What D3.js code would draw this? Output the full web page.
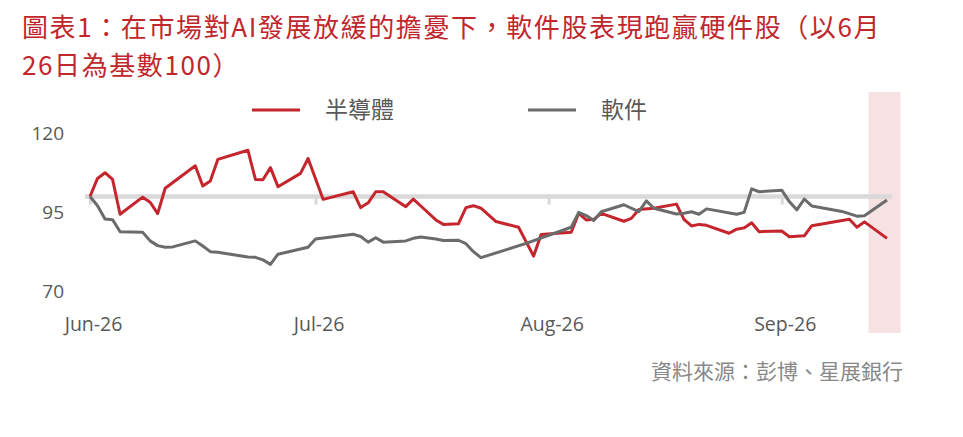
<!DOCTYPE html>
<html>
<head>
<meta charset="utf-8">
<script src="https://cdn.jsdelivr.net/npm/d3@7"></script>
<style>
  body { margin: 0; background: #fff; }
  svg { display: block; }
</style>
</head>
<body>
<svg id="chart" width="963" height="437"></svg>
<script>
const svg = d3.select("#chart");

// data (index, 26 Jun = 100)
const semiDates = ["06-26","06-27","06-28","06-29","06-30","07-03","07-04","07-05","07-06","07-10",
  "07-11","07-12","07-13","07-17","07-18","07-19","07-20","07-21","07-24","07-25",
  "07-27","07-31","08-01","08-02","08-03","08-04","08-07","08-08","08-09","08-11",
  "08-12","08-14","08-15","08-16","08-17","08-19","08-22","08-24","08-25","08-29",
  "08-30","08-31","09-01","09-02","09-05","09-06","09-07","09-09","09-12","09-13",
  "09-14","09-15","09-16","09-19","09-20","09-21","09-22","09-23","09-26","09-27",
  "09-29","09-30","10-05","10-06","10-07","10-10"];
const semiValues = [100,105.7,107.5,105.4,94.4,99.8,98.2,94.6,102.6,109.7,
  103.3,104.9,111.7,114.6,105.4,105.3,109.1,103.1,107.3,112.0,
  99.1,101.5,96.5,98.0,101.5,101.5,96.8,99.2,97.0,92.6,
  91.2,91.4,96.5,97.1,96.3,92.1,90.3,81.2,88.0,88.7,
  94.7,92.6,92.8,94.7,92.2,93.1,95.9,96.3,97.6,92.8,
  90.7,91.2,90.9,88.4,89.7,90.1,91.7,88.9,89.1,87.3,
  87.6,90.8,92.8,90.3,92.0,86.8];

const softDates = ["06-26","06-27","06-28","06-29","06-30","07-03","07-04","07-05","07-06","07-07",
  "07-10","07-11","07-12","07-13","07-17","07-18","07-19","07-20","07-21","07-25",
  "07-26","07-31","08-01","08-02","08-03","08-04","08-07","08-08","08-09","08-11",
  "08-12","08-14","08-15","08-16","08-17","08-23","08-29","08-30","08-31","09-01",
  "09-02","09-05","09-07","09-08","09-09","09-12","09-13","09-14","09-15","09-16",
  "09-20","09-21","09-22","09-23","09-26","09-27","09-28","09-29","09-30","10-04",
  "10-06","10-07","10-10"];
const softValues = [100,97.1,92.9,92.7,88.9,88.7,86.0,84.5,84.0,84.1,
  86.0,84.4,82.6,82.4,80.9,80.8,80.0,78.6,81.8,84.0,
  86.6,88.1,87.4,85.6,87.0,85.6,86.0,86.8,87.2,86.6,
  86.1,86.2,85.1,82.6,80.7,85.2,90.3,95.0,94.0,92.4,
  95.2,97.4,95.2,98.6,96.3,94.5,94.7,95.2,94.4,96.1,
  94.4,95.0,102.4,101.5,102.0,98.4,95.8,99.2,97.0,95.3,
  93.8,93.9,98.9];

const seriesNames = ["半導體", "軟件"];
const tickDates = ["06-26", "07-26", "08-26", "09-26"];
const yTicks = [70, 95, 120];
const highlight = ["10-07", "10-11"];
const year = "2025";

const titleLines = ["圖表1：在市場對AI發展放緩的擔憂下，軟件股表現跑贏硬件股（以6月", "26日為基數100）"];
const sourceText = "資料來源：彭博、星展銀行";

const red = "#C5262D";
const grey = "#6B6B6B";
const labelColor = "#595959";
const numFont = "'Open Sans', sans-serif";
const cjkFont = "'Noto Sans CJK TC', sans-serif";

const parse = d3.timeParse("%Y-%m-%d");
const toDate = s => parse(year + "-" + s);

const x = d3.scaleTime()
  .domain([toDate("06-26"), toDate("10-10")])
  .range([90, 887]);
const y = d3.scaleLinear()
  .domain([70, 120])
  .range([291.6, 133.1]);

// highlight band
svg.append("rect")
  .attr("x", x(toDate(highlight[0])) + 4)
  .attr("y", 92)
  .attr("width", x(toDate(highlight[1])) - x(toDate(highlight[0])) + 2)
  .attr("height", 241)
  .attr("fill", "#F6E1E3");

// title
svg.append("g").selectAll("text")
  .data(titleLines)
  .join("text")
  .attr("x", 22)
  .attr("y", (d, i) => 37 + i * 38)
  .attr("font-family", cjkFont)
  .attr("font-size", 26)
  .attr("letter-spacing", 1.6)
  .attr("fill", "#C0272D")
  .text(d => d);

// baseline at 100 with month ticks
const base = svg.append("g")
  .attr("transform", `translate(0,${y(100)})`)
  .call(d3.axisBottom(x)
    .tickValues(tickDates.map(toDate))
    .tickSize(8)
    .tickSizeOuter(0)
    .tickFormat(""));
base.select(".domain")
  .attr("d", `M${x.range()[0] - 5},0H${x.range()[1] + 5}`)
  .attr("stroke", "#D9D9D9")
  .attr("stroke-width", 4.5);
base.selectAll(".tick line")
  .attr("stroke", "#D9D9D9")
  .attr("stroke-width", 3);

// month labels
const xLab = svg.append("g")
  .attr("transform", "translate(3,317)")
  .call(d3.axisBottom(x)
    .tickValues(tickDates.map(toDate))
    .tickSize(0)
    .tickPadding(0)
    .tickFormat(d3.timeFormat("%b-%d")));
xLab.select(".domain").remove();
xLab.selectAll("text")
  .attr("font-family", numFont)
  .attr("font-size", 19.5)
  .attr("fill", labelColor);

// value labels
const yLab = svg.append("g")
  .attr("transform", "translate(64,0)")
  .call(d3.axisLeft(y)
    .tickValues(yTicks)
    .tickSize(0)
    .tickPadding(0));
yLab.select(".domain").remove();
yLab.selectAll("text")
  .attr("font-family", numFont)
  .attr("font-size", 19)
  .attr("fill", labelColor);

// lines
const line = d3.line()
  .x(d => x(d[0]))
  .y(d => y(d[1]));

const series = [
  { name: seriesNames[0], color: red, pts: semiDates.map((d, i) => [toDate(d), semiValues[i]]) },
  { name: seriesNames[1], color: grey, pts: softDates.map((d, i) => [toDate(d), softValues[i]]) }
];

svg.append("g").selectAll("path")
  .data(series)
  .join("path")
  .attr("d", d => line(d.pts))
  .attr("fill", "none")
  .attr("stroke", d => d.color)
  .attr("stroke-width", 3)
  .attr("stroke-linejoin", "round");

// legend
const legend = svg.append("g").selectAll("g")
  .data(series)
  .join("g")
  .attr("transform", (d, i) => `translate(${252 + i * 276},110)`);
legend.append("line")
  .attr("x1", 0)
  .attr("x2", 48)
  .attr("stroke", d => d.color)
  .attr("stroke-width", 3);
legend.append("text")
  .attr("x", 73)
  .attr("dy", "0.35em")
  .attr("font-family", cjkFont)
  .attr("font-size", 23)
  .attr("fill", labelColor)
  .text(d => d.name);

// source
svg.append("text")
  .attr("x", 903)
  .attr("y", 379)
  .attr("text-anchor", "end")
  .attr("font-family", cjkFont)
  .attr("font-size", 21)
  .attr("fill", "#888888")
  .text(sourceText);
</script>
</body>
</html>
